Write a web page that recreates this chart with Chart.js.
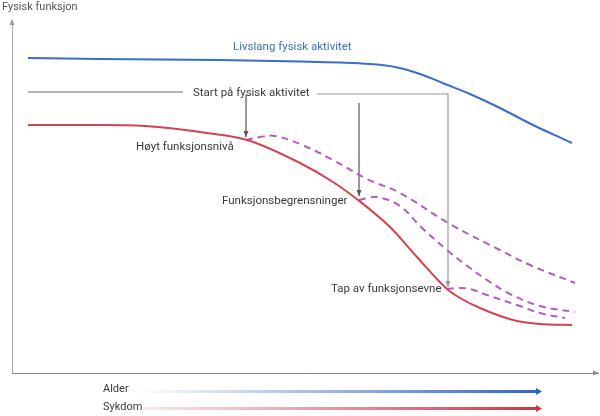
<!DOCTYPE html>
<html>
<head>
<meta charset="utf-8">
<script src="https://cdn.jsdelivr.net/npm/chart.js@4.4.1/dist/chart.umd.min.js"></script>
<style>
  html, body { margin: 0; padding: 0; background: #ffffff; }
  #wrap { width: 600px; height: 416px; position: relative; }
</style>
</head>
<body>
<div id="wrap"><canvas id="c" width="600" height="416"></canvas></div>
<script>
// ---- Data (arbitrary units: x = age/time, y = physical function) ----
const lifelongX = [16, 88, 208, 288, 328, 358, 383, 408, 433, 458, 488, 521, 560];
const lifelongY = [315, 314, 313, 311.5, 310.5, 309, 306, 299, 289, 279, 265, 248, 230];

const declineX = [16, 88, 133, 195, 235, 288, 321, 346, 378, 405, 435, 448, 468, 501, 528, 560];
const declineY = [248, 248, 247, 240, 233, 210, 191, 173, 146, 116, 84, 75, 65, 53, 49, 48];

const startHighX = [234, 248, 263, 288, 321, 355, 388, 438, 488, 518, 563];
const startHighY = [233, 236, 237, 229, 213, 194, 180, 149, 123, 108, 90];

const startLimitX = [347, 356, 366, 388, 408, 435, 458, 478, 498, 528, 563];
const startLimitY = [173, 175, 176, 167, 147, 123, 105, 91, 79, 67, 61];

const startLossX = [435, 446, 458, 475, 505, 528, 553];
const startLossY = [84, 85, 84, 78, 68, 60, 55];

// guide lines for "Start på fysisk aktivitet"
const guideLeftX = [16, 171];
const guideLeftY = [281, 281];
const guideRightX = [305, 436, 436];
const guideRightY = [279, 279, 86];
const arrowHighX = [234, 234];
const arrowHighY = [278, 236];
const arrowLimitX = [347, 347];
const arrowLimitY = [270, 177];

// text labels
const labelTexts = ['Livslang fysisk aktivitet', 'Start på fysisk aktivitet', 'Høyt funksjonsnivå', 'Funksjonsbegrensninger', 'Tap av funksjonsevne'];
const labelX = [221, 181, 124, 210, 319];
const labelY = [326, 280, 226, 172, 84];
const yAxisTitle = 'Fysisk funksjon';
const driverLabels = ['Alder', 'Sykdom'];

const zip = (xs, ys) => xs.map((x, i) => ({ x: x, y: ys[i] }));

const BLUE = '#3b6fc6';
const RED = '#d4434f';
const PURPLE = '#b35cc2';
const FONT = 'Roboto, "DejaVu Sans", sans-serif';

const lineDs = (label, xs, ys, color, extra) => Object.assign({
  label: label,
  data: zip(xs, ys),
  borderColor: color,
  backgroundColor: color,
  borderWidth: 2,
  pointRadius: 0,
  pointHoverRadius: 0,
  fill: false,
  cubicInterpolationMode: 'default',
  tension: 0.4
}, extra || {});

const datasets = [
  lineDs('Livslang fysisk aktivitet', lifelongX, lifelongY, BLUE),
  lineDs('Forløp', declineX, declineY, RED, { cubicInterpolationMode: 'monotone' }),
  lineDs('Start ved høyt funksjonsnivå', startHighX, startHighY, PURPLE, { borderDash: [7, 5] }),
  lineDs('Start ved funksjonsbegrensninger', startLimitX, startLimitY, PURPLE, { borderDash: [7, 5] }),
  lineDs('Start ved tap av funksjonsevne', startLossX, startLossY, PURPLE, { borderDash: [7, 5] }),
  lineDs('guide1', guideLeftX, guideLeftY, '#6a6a6a', { borderWidth: 1, tension: 0 }),
  lineDs('guide2', guideRightX, guideRightY, '#9a9a9a', { borderWidth: 1.2, tension: 0, arrowEnd: true }),
  lineDs('guide3', arrowHighX, arrowHighY, '#555555', { borderWidth: 1.2, tension: 0, arrowEnd: true }),
  lineDs('guide4', arrowLimitX, arrowLimitY, '#555555', { borderWidth: 1.2, tension: 0, arrowEnd: true })
];

function arrowHead(ctx, x, y, angle, len, half, color) {
  ctx.save();
  ctx.translate(x, y);
  ctx.rotate(angle);
  ctx.fillStyle = color;
  ctx.beginPath();
  ctx.moveTo(0, 0);
  ctx.lineTo(-len, -half);
  ctx.lineTo(-len, half);
  ctx.closePath();
  ctx.fill();
  ctx.restore();
}

const decorPlugin = {
  id: 'decor',
  afterDatasetsDraw(chart) {
    const ctx = chart.ctx;
    const xs = chart.scales.x, ys = chart.scales.y;
    const area = chart.chartArea;
    // arrowheads on guide lines
    chart.data.datasets.forEach((ds) => {
      if (!ds.arrowEnd) return;
      const n = ds.data.length;
      const p1 = ds.data[n - 2], p2 = ds.data[n - 1];
      const x1 = xs.getPixelForValue(p1.x), y1 = ys.getPixelForValue(p1.y);
      const x2 = xs.getPixelForValue(p2.x), y2 = ys.getPixelForValue(p2.y);
      arrowHead(ctx, x2, y2, Math.atan2(y2 - y1, x2 - x1), 6, 2.5, ds.borderColor);
    });
    // axis arrowheads
    arrowHead(ctx, area.left, area.top - 1, -Math.PI / 2, 6, 2.5, '#9a9a9a');
    arrowHead(ctx, area.right + 1, area.bottom, 0, 6, 2.5, '#8a8a8a');

    // text labels
    ctx.save();
    ctx.textBaseline = 'middle';
    ctx.textAlign = 'left';
    labelTexts.forEach((t, i) => {
      ctx.font = '11.5px ' + FONT;
      ctx.fillStyle = i === 0 ? BLUE : '#3a3a3a';
      ctx.fillText(t, xs.getPixelForValue(labelX[i]), ys.getPixelForValue(labelY[i]));
    });
    // y-axis title
    ctx.font = '11px ' + FONT;
    ctx.fillStyle = '#555555';
    ctx.fillText(yAxisTitle, 2, 7);

    // driver arrows (Alder, Sykdom)
    const drivers = [
      { text: driverLabels[0], ty: 389, y: 391.5, x0: 134, from: 'rgba(59,111,198,0.0)', to: '#2f62c0' },
      { text: driverLabels[1], ty: 407, y: 408.5, x0: 144, from: 'rgba(212,67,79,0.12)', to: '#c93441' }
    ];
    const xEnd = 542;
    drivers.forEach((d) => {
      ctx.font = '11px ' + FONT;
      ctx.fillStyle = '#3a3a3a';
      ctx.fillText(d.text, 103, d.ty);
      const g = ctx.createLinearGradient(d.x0, 0, xEnd, 0);
      g.addColorStop(0, d.from);
      g.addColorStop(1, d.to);
      ctx.strokeStyle = g;
      ctx.lineWidth = 3;
      ctx.beginPath();
      ctx.moveTo(d.x0, d.y);
      ctx.lineTo(xEnd - 5, d.y);
      ctx.stroke();
      arrowHead(ctx, xEnd, d.y, 0, 6, 3.5, d.to);
    });
    ctx.restore();
  }
};

new Chart(document.getElementById('c'), {
  type: 'line',
  data: { datasets: datasets },
  options: {
    responsive: false,
    animation: false,
    events: [],
    layout: { padding: { left: 12, top: 20, right: 2, bottom: 43 } },
    plugins: { legend: { display: false }, tooltip: { enabled: false } },
    scales: {
      x: {
        type: 'linear', min: 0, max: 586,
        grid: { display: false, drawTicks: false },
        ticks: { display: false },
        border: { display: true, color: '#8a8a8a', width: 1 }
      },
      y: {
        type: 'linear', min: 0, max: 353,
        grid: { display: false, drawTicks: false },
        ticks: { display: false },
        border: { display: true, color: '#a8a8a8', width: 1 }
      }
    }
  },
  plugins: [decorPlugin]
});
</script>
</body>
</html>
